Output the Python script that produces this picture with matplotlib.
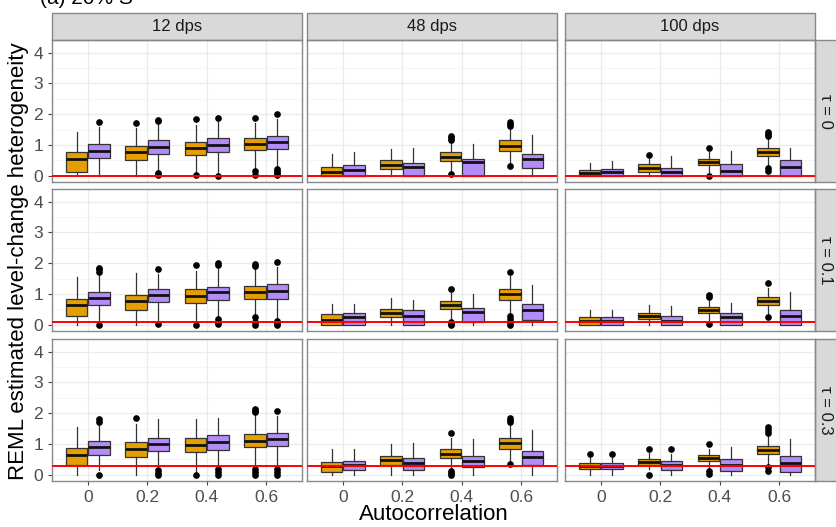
import matplotlib.pyplot as plt
from matplotlib.patches import Rectangle

plt.rcParams['font.family'] = ['Liberation Sans', 'DejaVu Sans']

autocorr = ["0", "0.2", "0.4", "0.6"]
dps_labels = ["12 dps", "48 dps", "100 dps"]
tau_values = [0, 0.1, 0.3]
tau_labels = ["τ = 0", "τ = 0.1", "τ = 0.3"]

# orange method, nested as [tau][dps][autocorrelation]
whislo_a = [[[0, 0, 0.10, 0.25], [0, 0, 0.14, 0.36], [0, 0, 0.11, 0.30]],
            [[0, 0, 0, 0.30], [0, 0, 0.19, 0.36], [0, 0, 0.16, 0.32]],
            [[0, 0, 0, 0.27], [0.01, 0, 0.18, 0.40], [0, 0.18, 0.20, 0.31]]]
q1_a = [[[0.12, 0.50, 0.69, 0.83], [0.0, 0.22, 0.49, 0.82], [0, 0.14, 0.34, 0.63]],
        [[0.28, 0.49, 0.71, 0.84], [0, 0.26, 0.52, 0.82], [0, 0.19, 0.38, 0.63]],
        [[0.31, 0.58, 0.75, 0.89], [0.10, 0.31, 0.55, 0.83], [0.18, 0.31, 0.44, 0.68]]]
med_a = [[[0.54, 0.76, 0.91, 1.04], [0.14, 0.36, 0.62, 0.98], [0.09, 0.25, 0.45, 0.77]],
         [[0.63, 0.79, 0.95, 1.08], [0.17, 0.40, 0.65, 0.99], [0.11, 0.29, 0.48, 0.77]],
         [[0.64, 0.83, 0.97, 1.10], [0.28, 0.48, 0.69, 1.02], [0.29, 0.42, 0.55, 0.81]]]
q3_a = [[[0.79, 0.98, 1.10, 1.23], [0.30, 0.52, 0.76, 1.15], [0.19, 0.38, 0.56, 0.90]],
        [[0.84, 0.97, 1.17, 1.26], [0.34, 0.52, 0.78, 1.17], [0.24, 0.40, 0.57, 0.90]],
        [[0.87, 1.05, 1.18, 1.32], [0.42, 0.62, 0.83, 1.21], [0.40, 0.51, 0.65, 0.94]]]
whishi_a = [[[1.41, 1.55, 1.65, 1.72], [0.71, 0.88, 1.06, 1.58], [0.43, 0.54, 0.79, 1.22]],
            [[1.55, 1.69, 1.76, 1.82], [0.68, 0.87, 1.03, 1.57], [0.48, 0.65, 0.79, 1.21]],
            [[1.54, 1.64, 1.81, 1.97], [0.83, 1.00, 1.18, 1.65], [0.56, 0.70, 0.85, 1.29]]]
fliers_a = [[[[], [1.70], [1.84, 0.03], [1.88, 0.17, 0.02]],
             [[], [], [1.17, 1.22, 1.28, 0.05], [1.62, 1.68, 1.76, 0.32]],
             [[], [0.68], [0.91, 0.0], [1.28, 1.35, 1.42, 0.25, 0.15]]],
            [[[], [], [1.95, 0.0], [1.92, 1.98, 0.25, 0.10, 0.0]],
             [[], [], [1.17, 0.10, 0.03, 0.0], [1.71, 0.30, 0.20, 0.10, 0.0]],
             [[], [], [0.90, 0.97, 0.02], [1.37, 0.25]]],
            [[[], [1.85], [0.0], [2.03, 2.08, 2.13, 0.20, 0.10, 0.0]],
             [[], [], [1.37, 0.12, 0.06, 0.0], [1.72, 1.78, 1.86, 0.35]],
             [[0.67], [0.83, 0.0], [1.00, 0.13, 0.03], [1.37, 1.45, 1.54, 0.27, 0.13]]]]

# purple method
whislo_b = [[[0, 0.15, 0.05, 0.30], [0, 0, 0, 0], [0, 0, 0, 0]],
            [[0.02, 0.14, 0.25, 0.20], [0, 0, 0.01, 0], [0, 0, 0, 0]],
            [[0.16, 0.29, 0.27, 0.27], [0, 0, 0, 0], [0, 0, 0, 0]]]
q1_b = [[[0.57, 0.71, 0.77, 0.87], [0, 0, 0, 0.24], [0, 0, 0, 0]],
        [[0.64, 0.73, 0.82, 0.84], [0, 0, 0.09, 0.16], [0, 0, 0, 0]],
        [[0.66, 0.78, 0.81, 0.94], [0.15, 0.16, 0.25, 0.31], [0.18, 0.16, 0.12, 0.10]]]
med_b = [[[0.82, 0.94, 1.01, 1.09], [0.18, 0.29, 0.44, 0.54], [0.11, 0.11, 0.17, 0.29]],
         [[0.87, 0.97, 1.06, 1.10], [0.25, 0.30, 0.41, 0.49], [0.12, 0.14, 0.24, 0.30]],
         [[0.91, 1.00, 1.07, 1.16], [0.31, 0.38, 0.44, 0.58], [0.29, 0.31, 0.31, 0.40]]]
q3_b = [[[1.03, 1.15, 1.23, 1.30], [0.36, 0.43, 0.55, 0.71], [0.22, 0.27, 0.37, 0.50]],
        [[1.05, 1.17, 1.24, 1.32], [0.38, 0.47, 0.55, 0.68], [0.26, 0.29, 0.37, 0.49]],
        [[1.09, 1.21, 1.29, 1.35], [0.45, 0.54, 0.62, 0.78], [0.40, 0.45, 0.51, 0.60]]]
whishi_b = [[[1.58, 1.65, 1.75, 1.85], [0.77, 0.92, 1.03, 1.33], [0.48, 0.65, 0.82, 0.90]],
            [[1.65, 1.66, 1.82, 1.87], [0.68, 0.82, 1.01, 1.30], [0.48, 0.61, 0.71, 1.05]],
            [[1.64, 1.81, 1.85, 1.92], [0.85, 1.03, 1.16, 1.45], [0.56, 0.67, 0.89, 1.16]]]
fliers_b = [[[[1.76], [1.78, 1.82, 0.08, 0.03], [1.89, 0.01], [2.00, 0.22, 0.15, 0.08, 0.02]],
             [[], [], [], []],
             [[], [], [], []]],
            [[[1.72, 1.80, 1.84, 0.0], [1.80, 0.03], [1.93, 2.00, 0.20, 0.10, 0.03], [2.03, 0.14, 0.05, 0.0]],
             [[], [], [], []],
             [[], [], [], []]],
            [[[1.72, 1.81, 0.0], [0.16, 0.05, 0.0], [0.20, 0.10, 0.0], [2.08, 0.20, 0.10, 0.0]],
             [[], [], [], []],
             [[0.67], [0.83], [], []]]]

ORANGE = "#E69F00"
PURPLE = "#B38CF7"
W, H = 837, 527
col_x = [52, 307, 565]
row_y = [40, 189, 339]
pw, ph = 250, 142
strip_h = 27

fig = plt.figure(figsize=(W / 100, H / 100), dpi=100)


def make_stats(wl, q1, md, q3, wh, fl):
    return [dict(whislo=wl[k], q1=q1[k], med=md[k], q3=q3[k], whishi=wh[k], fliers=fl[k])
            for k in range(len(md))]


pos = list(range(1, len(autocorr) + 1))
for i in range(3):
    for j in range(3):
        ax = fig.add_axes([col_x[j] / W, 1 - (row_y[i] + ph) / H, pw / W, ph / H])
        ax.set_xlim(0.4, 4.6)
        ax.set_ylim(-0.2, 4.41)
        ax.set_yticks([0, 1, 2, 3, 4])
        ax.set_yticks([0.5, 1.5, 2.5, 3.5], minor=True)
        ax.set_xticks(pos)
        ax.set_xticklabels(autocorr)
        ax.grid(which='major', color='#EBEBEB', lw=0.9)
        ax.grid(which='minor', axis='y', color='#F4F4F4', lw=0.6)
        ax.set_axisbelow(True)
        for s in ax.spines.values():
            s.set_color('#888888')
            s.set_linewidth(1.0)
        ax.tick_params(which='both', length=3, color='#444444', labelcolor='#4D4D4D', labelsize=12.5)
        ax.tick_params(which='minor', length=0)
        if j > 0:
            ax.tick_params(left=False, labelleft=False)
        if i < 2:
            ax.tick_params(bottom=False, labelbottom=False)

        for stats_args, off, col in [
            ((whislo_a, q1_a, med_a, q3_a, whishi_a, fliers_a), -0.1875, ORANGE),
            ((whislo_b, q1_b, med_b, q3_b, whishi_b, fliers_b), 0.1875, PURPLE),
        ]:
            stats = make_stats(*[a[i][j] for a in stats_args])
            ax.bxp(stats, positions=[p + off for p in pos], widths=0.36,
                   patch_artist=True, showcaps=False, manage_ticks=False,
                   boxprops=dict(facecolor=col, edgecolor='#333333', lw=0.9),
                   medianprops=dict(color='#111111', lw=2.0),
                   whiskerprops=dict(color='#333333', lw=0.9),
                   flierprops=dict(marker='o', markerfacecolor='black',
                                   markeredgecolor='black', markersize=3.8))
        ax.axhline(tau_values[i], color='red', lw=1.4, zorder=5)

        if i == 0:
            ax.add_patch(Rectangle((0, 1), 1, strip_h / ph, transform=ax.transAxes,
                                   facecolor='#D9D9D9', edgecolor='#888888', lw=1.0,
                                   clip_on=False))
            ax.text(0.5, 1 + strip_h / ph / 2, dps_labels[j], transform=ax.transAxes,
                    ha='center', va='center', fontsize=12, color='#1A1A1A')
        if j == 2:
            ax.add_patch(Rectangle((1, 0), 30 / pw, 1, transform=ax.transAxes,
                                   facecolor='#D9D9D9', edgecolor='#888888', lw=1.0,
                                   clip_on=False))
            ax.text(1 + 11 / pw, 0.5, tau_labels[i], transform=ax.transAxes,
                    ha='center', va='center', rotation=-90, fontsize=12, color='#1A1A1A')

fig.text(433.5 / W, 1 - 515 / H, "Autocorrelation", ha='center', va='center',
         fontsize=16, color='black')
fig.text(19 / W, 1 - 261 / H, "REML estimated level-change heterogeneity",
         ha='center', va='center', rotation=90, fontsize=16, color='black')
# title sits mostly above the cropped top edge, as in the source image
fig.text(40 / W, 1 - 4 / H, "(a) 20% S", ha='left', va='baseline', fontsize=15, color='black')

fig.savefig("out.png", dpi=100)
